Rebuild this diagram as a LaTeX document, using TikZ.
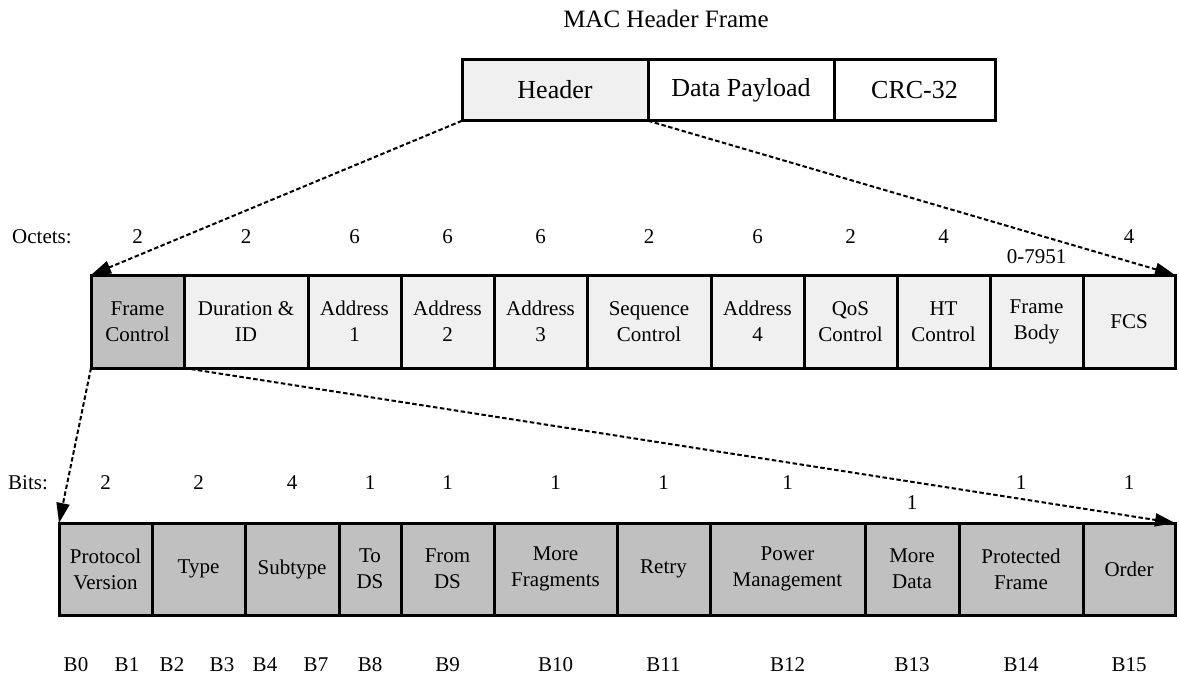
\documentclass[tikz,border=0pt]{standalone}
\usepackage{fontspec}
\setmainfont{Liberation Serif}
\usetikzlibrary{arrows.meta}
\definecolor{lightcell}{HTML}{F0F0F0}
\definecolor{darkcell}{HTML}{C0C0C0}
\begin{document}
\begin{tikzpicture}[x=1pt,y=-1pt,
  cellbase/.style={draw=black, line width=3pt, inner sep=0pt, outer sep=0pt,
    align=center, font=\fontsize{21}{26}\selectfont},
  topcell/.style={cellbase, minimum height=61.5pt, font=\fontsize{26}{30}\selectfont},
  octcell/.style={cellbase, minimum height=93pt, fill=lightcell},
  bitcell/.style={cellbase, minimum height=92pt, fill=darkcell},
  lbl/.style={inner sep=0pt, font=\fontsize{21}{25}\selectfont},
  conn/.style={line width=2pt, dash pattern=on 4.5pt off 2.5pt,
    -{Triangle[length=20pt,width=13pt]}}
]
\useasboundingbox (0,0) rectangle (1179,682);

% frame overview
\node[font=\fontsize{25}{30}\selectfont, inner sep=0pt] (title) at (666,19) {MAC Header Frame};
\node[topcell, fill=lightcell, minimum width=186pt] (header) at (555,90) {Header};
\node[topcell, fill=white, minimum width=186pt] (payload) at (741,90) {Data Payload};
\node[topcell, fill=white, minimum width=161pt] (crc) at (914.5,90) {CRC-32};

% MAC header fields
\node[lbl, anchor=west] (octets) at (12,237) {Octets:};
\node[octcell, fill=darkcell, minimum width=93pt] (fc) at (137.5,321.5) {Frame\\Control};
\node[octcell, minimum width=124pt] (dur) at (246,321.5) {Duration \&\\ID};
\node[octcell, minimum width=93pt] (a1) at (354.5,321.5) {Address\\1};
\node[octcell, minimum width=93pt] (a2) at (447.5,321.5) {Address\\2};
\node[octcell, minimum width=93pt] (a3) at (540.5,321.5) {Address\\3};
\node[octcell, minimum width=124pt] (seq) at (649,321.5) {Sequence\\Control};
\node[octcell, minimum width=93pt] (a4) at (757.5,321.5) {Address\\4};
\node[octcell, minimum width=93pt] (qos) at (850.5,321.5) {QoS\\Control};
\node[octcell, minimum width=93pt] (ht) at (943.5,321.5) {HT\\Control};
\node[octcell, minimum width=93pt] (body) at (1036.5,321.5) {Frame\\Body};
\node[octcell, minimum width=92pt] (fcs) at (1129,321.5) {FCS};

\node[lbl] (n-fc) at (137.5,237) {2};
\node[lbl] (n-dur) at (246,237) {2};
\node[lbl] (n-a1) at (354.5,237) {6};
\node[lbl] (n-a2) at (447.5,237) {6};
\node[lbl] (n-a3) at (540.5,237) {6};
\node[lbl] (n-seq) at (649,237) {2};
\node[lbl] (n-a4) at (757.5,237) {6};
\node[lbl] (n-qos) at (850.5,237) {2};
\node[lbl] (n-ht) at (943.5,237) {4};
\node[lbl] (n-body) at (1036.5,257) {0-7951};
\node[lbl] (n-fcs) at (1129,237) {4};

% frame control bits
\node[lbl, anchor=west] (bits) at (8,483) {Bits:};
\node[bitcell, minimum width=93pt] (pv) at (105.5,569) {Protocol\\Version};
\node[bitcell, minimum width=93pt] (type) at (198.5,569) {Type};
\node[bitcell, minimum width=94pt] (sub) at (292,569) {Subtype};
\node[bitcell, minimum width=62pt] (tods) at (370,569) {To\\DS};
\node[bitcell, minimum width=93pt] (fromds) at (447.5,569) {From\\DS};
\node[bitcell, minimum width=123pt] (mf) at (555.5,569) {More\\Fragments};
\node[bitcell, minimum width=93pt] (retry) at (663.5,569) {Retry};
\node[bitcell, minimum width=155pt] (pm) at (787.5,569) {Power\\Management};
\node[bitcell, minimum width=94pt] (md) at (912,569) {More\\Data};
\node[bitcell, minimum width=124pt] (pf) at (1021,569) {Protected\\Frame};
\node[bitcell, minimum width=92pt] (ord) at (1129,569) {Order};

\node[lbl] (w-pv) at (105.5,483) {2};
\node[lbl] (w-type) at (198.5,483) {2};
\node[lbl] (w-sub) at (292,483) {4};
\node[lbl] (w-tods) at (370,483) {1};
\node[lbl] (w-fromds) at (447.5,483) {1};
\node[lbl] (w-mf) at (555.5,483) {1};
\node[lbl] (w-retry) at (663.5,483) {1};
\node[lbl] (w-pm) at (787.5,483) {1};
\node[lbl] (w-md) at (912,503) {1};
\node[lbl] (w-pf) at (1021,483) {1};
\node[lbl] (w-ord) at (1129,483) {1};

\node[lbl] (b0) at (76,665) {B0};
\node[lbl] (b1) at (127,665) {B1};
\node[lbl] (b2) at (172,665) {B2};
\node[lbl] (b3) at (222,665) {B3};
\node[lbl] (b4) at (265,665) {B4};
\node[lbl] (b7) at (316,665) {B7};
\node[lbl] (b8) at (370,665) {B8};
\node[lbl] (b9) at (447.5,665) {B9};
\node[lbl] (b10) at (555.5,665) {B10};
\node[lbl] (b11) at (663.5,665) {B11};
\node[lbl] (b12) at (787.5,665) {B12};
\node[lbl] (b13) at (912,665) {B13};
\node[lbl] (b14) at (1021,665) {B14};
\node[lbl] (b15) at (1129,665) {B15};

% expansion lines
\draw[conn] (header.south west) -- (fc.north west);
\draw[conn] (header.south east) -- (fcs.north east);
\draw[conn] (fc.south west) -- (pv.north west);
\draw[conn] (fc.south east) -- (ord.north east);
\end{tikzpicture}
\end{document}
